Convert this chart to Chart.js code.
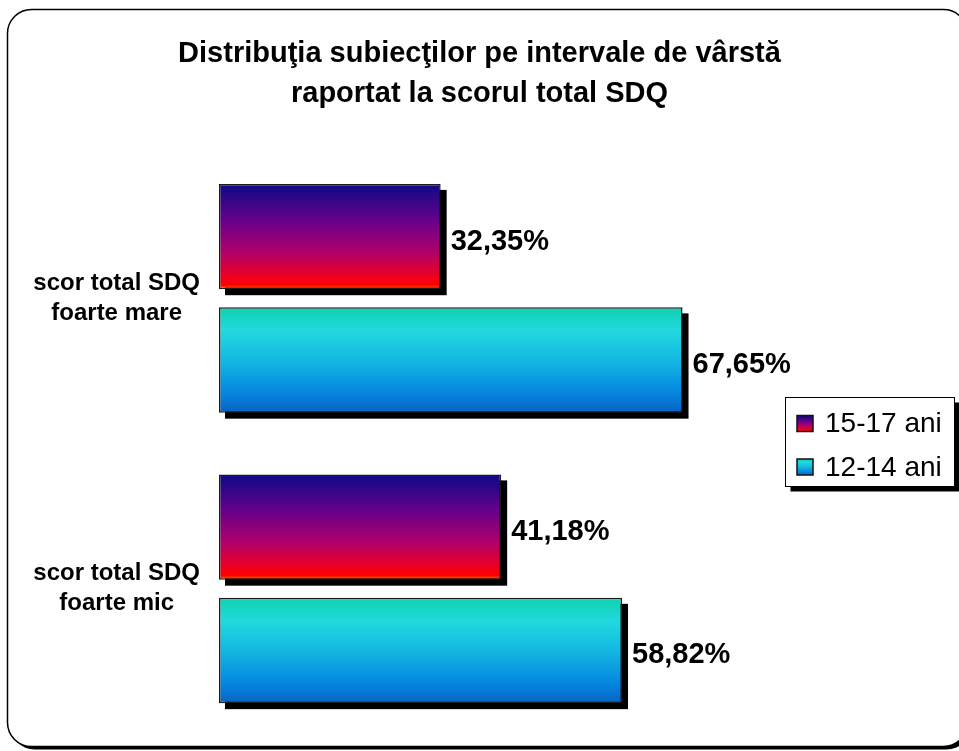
<!DOCTYPE html>
<html lang="ro">
<head>
<meta charset="utf-8">
<title>Distribuţia subiecţilor pe intervale de vârstă</title>
<script src="https://cdn.jsdelivr.net/npm/chart.js@4.4.0/dist/chart.umd.min.js"></script>
<style>
  html, body { margin: 0; padding: 0; background: #fff; }
  canvas { display: block; }
</style>
</head>
<body>
<canvas id="sdqChart" width="959" height="751"></canvas>
<script>
const categories = [['scor total SDQ', 'foarte mare'], ['scor total SDQ', 'foarte mic']];
const seriesNames = ['15-17 ani', '12-14 ani'];
const values1517 = [32.35, 41.18];
const values1214 = [67.65, 58.82];

// top -> bottom colour stops, one list per series
const gradientStops = [
    [[0, '#0c0a86'], [0.35, '#68008a'], [0.65, '#b0006a'], [0.88, '#ee0020'], [0.96, '#ff0000'], [1, '#ff6a00']],
    [[0, '#0ed2ae'], [0.22, '#22d8de'], [0.5, '#14b8e2'], [0.8, '#0688e0'], [1, '#0664c4']]
];

const FONT = 'Arial, "Liberation Sans", sans-serif';
const SHADOW = 6;

function makeGradient(ctx, top, bottom, stops) {
    const g = ctx.createLinearGradient(0, top, 0, bottom);
    stops.forEach(([offset, color]) => g.addColorStop(offset, color));
    return g;
}

function roundRect(ctx, x, y, w, h, r) {
    ctx.beginPath();
    ctx.moveTo(x + r, y);
    ctx.lineTo(x + w - r, y);
    ctx.arcTo(x + w, y, x + w, y + r, r);
    ctx.lineTo(x + w, y + h - r);
    ctx.arcTo(x + w, y + h, x + w - r, y + h, r);
    ctx.lineTo(x + r, y + h);
    ctx.arcTo(x, y + h, x, y + h - r, r);
    ctx.lineTo(x, y + r);
    ctx.arcTo(x, y, x + r, y, r);
    ctx.closePath();
}

const formatPct = v => v.toFixed(2).replace('.', ',') + '%';

// Rounded frame with a small drop shadow
const framePlugin = {
    id: 'frame',
    beforeDraw(chart) {
        const ctx = chart.ctx;
        ctx.save();
        ctx.fillStyle = '#000';
        roundRect(ctx, 10.5, 12.5, 960, 737, 24);
        ctx.fill();
        ctx.fillStyle = '#fff';
        roundRect(ctx, 7.5, 9.5, 960, 737, 24);
        ctx.fill();
        ctx.lineWidth = 1.5;
        ctx.strokeStyle = '#000';
        ctx.stroke();
        ctx.restore();
    }
};

// Per-bar vertical gradients, hard black shadow and value labels
const barStylePlugin = {
    id: 'barStyle',
    beforeDatasetsDraw(chart) {
        const ctx = chart.ctx;
        ctx.save();
        ctx.fillStyle = '#000';
        chart.data.datasets.forEach((ds, i) => {
            chart.getDatasetMeta(i).data.forEach(bar => {
                const { x, y, base, height } = bar.getProps(['x', 'y', 'base', 'height'], true);
                const top = y - height / 2;
                ctx.fillRect(base + SHADOW, top + SHADOW, x - base, height);
                bar.options = Object.assign({}, bar.options, {
                    backgroundColor: makeGradient(ctx, top, top + height, gradientStops[i])
                });
            });
        });
        ctx.restore();
    },
    afterDatasetsDraw(chart) {
        const ctx = chart.ctx;
        ctx.save();
        ctx.font = `bold 29px ${FONT}`;
        ctx.fillStyle = '#000';
        ctx.textBaseline = 'middle';
        ctx.textAlign = 'left';
        chart.data.datasets.forEach((ds, i) => {
            chart.getDatasetMeta(i).data.forEach((bar, j) => {
                ctx.fillText(formatPct(ds.data[j]), bar.x + 10, bar.y + 5);
            });
        });
        ctx.restore();
    }
};

// Boxed legend on the right
const legendPlugin = {
    id: 'boxLegend',
    afterDraw(chart) {
        const ctx = chart.ctx;
        const box = { x: 785.5, y: 397.5, w: 169, h: 89 };
        ctx.save();
        ctx.fillStyle = '#000';
        ctx.fillRect(box.x + 5, box.y + 5, box.w, box.h);
        ctx.fillStyle = '#fff';
        ctx.fillRect(box.x, box.y, box.w, box.h);
        ctx.lineWidth = 1;
        ctx.strokeStyle = '#000';
        ctx.strokeRect(box.x, box.y, box.w, box.h);

        ctx.font = `28px ${FONT}`;
        ctx.textBaseline = 'middle';
        ctx.textAlign = 'left';
        chart.data.datasets.forEach((ds, i) => {
            const cy = box.y + 26 + i * 43.5;
            ctx.fillStyle = makeGradient(ctx, cy - 8, cy + 8, gradientStops[i]);
            ctx.fillRect(797, cy - 8, 16, 16);
            ctx.lineWidth = 1.5;
            ctx.strokeStyle = '#111';
            ctx.strokeRect(797, cy - 8, 16, 16);
            ctx.fillStyle = '#000';
            ctx.fillText(ds.label, 825, cy + 1);
        });
        ctx.restore();
    }
};

new Chart(document.getElementById('sdqChart'), {
    type: 'bar',
    data: {
        labels: categories,
        datasets: [
            { label: seriesNames[0], data: values1517, backgroundColor: '#800080', borderColor: '#1c1c1c' },
            { label: seriesNames[1], data: values1214, backgroundColor: '#20c8e0', borderColor: '#1c1c1c' }
        ]
    },
    options: {
        indexAxis: 'y',
        responsive: false,
        animation: false,
        devicePixelRatio: 1,
        layout: { padding: { bottom: 17 } },
        datasets: {
            bar: {
                categoryPercentage: 0.85,
                barPercentage: 0.853,
                borderWidth: 1.5,
                borderSkipped: false,
                inflateAmount: 0
            }
        },
        plugins: {
            colors: { enabled: false },
            legend: { display: false },
            tooltip: { enabled: false },
            title: {
                display: true,
                text: ['Distribuţia subiecţilor pe intervale de vârstă', 'raportat la scorul total SDQ'],
                color: '#000',
                font: { family: FONT, size: 29, weight: 'bold', lineHeight: 1.38 },
                padding: { top: 34, bottom: 39 }
            }
        },
        scales: {
            x: { display: false, min: 0, max: 108 },
            y: {
                grid: { display: false, drawTicks: false },
                border: { display: false },
                ticks: {
                    color: '#000',
                    font: { family: FONT, size: 24, weight: 'bold', lineHeight: 1.25 },
                    padding: 19,
                    crossAlign: 'center'
                },
                afterFit(scale) {
                    scale.width = 219;
                    scale.paddingTop = 0;
                    scale.paddingBottom = 0;
                }
            }
        }
    },
    plugins: [framePlugin, barStylePlugin, legendPlugin]
});
</script>
</body>
</html>
